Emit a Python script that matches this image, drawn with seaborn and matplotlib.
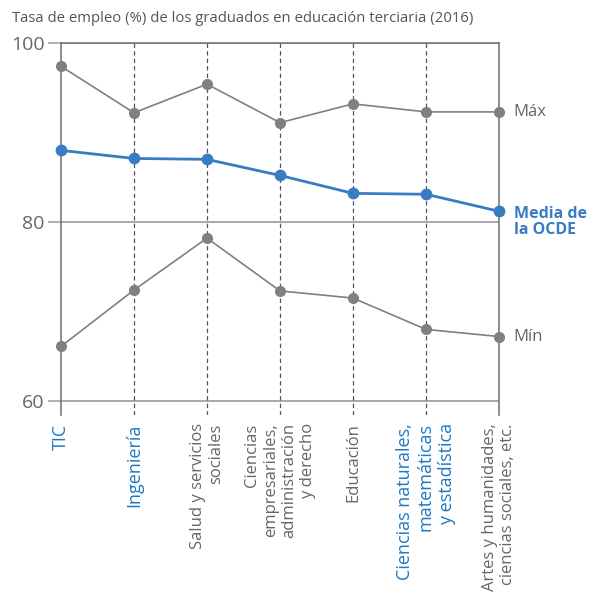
import numpy as np
import pandas as pd
import matplotlib
matplotlib.use("Agg")
import matplotlib.pyplot as plt
import seaborn as sns

categories = ["TIC", "Ingeniería", "Salud y servicios\nsociales",
              "Ciencias\nempresariales,\nadministración\ny derecho",
              "Educación", "Ciencias naturales,\nmatemáticas\ny estadística",
              "Artes y humanidades,\nciencias sociales, etc."]
highlight = [True, True, False, False, False, True, False]
max_vals = [97.4, 92.2, 95.4, 91.1, 93.2, 92.3, 92.3]
mean_vals = [88.0, 87.1, 87.0, 85.2, 83.2, 83.1, 81.2]
min_vals = [66.1, 72.4, 78.2, 72.3, 71.5, 68.0, 67.2]
y_ticks = [60, 80, 100]
title = "Tasa de empleo (%) de los graduados en educación terciaria (2016)"

sns.set_theme(style="white")
plt.rcParams['font.family'] = ['Open Sans', 'DejaVu Sans']

GRAY = "#808080"
BLUE = "#3a7cc3"
LBLUE = "#1f78c1"
TXT = "#666666"

x = np.arange(len(categories))
df = pd.DataFrame({"x": np.tile(x, 3),
                   "val": max_vals + mean_vals + min_vals,
                   "serie": ["Máx"] * 7 + ["Media"] * 7 + ["Mín"] * 7})

fig = plt.figure(figsize=(5.98, 5.94), dpi=100)
ax = fig.add_axes([61 / 598, 1 - 415 / 594, (499 - 61) / 598, (415 - 43) / 594])

ybot = 60 - 14 / 8.95
ax.set_ylim(ybot, 100)
ax.set_xlim(0, 6)

for yv in y_ticks:
    ax.axhline(yv, color="#9a9a9a", lw=1.2, zorder=1)
for xi in x[1:-1]:
    ax.axvline(xi, color="#555555", lw=0.9, ls=(0, (3.5, 2.5)), zorder=1)

for serie, col, lw, ms in [("Máx", GRAY, 1.2, 8), ("Mín", GRAY, 1.2, 8), ("Media", BLUE, 2.0, 8.5)]:
    sub = df[df.serie == serie]
    sns.lineplot(data=sub, x="x", y="val", ax=ax, color=col, lw=lw, marker="o",
                 markersize=ms, markeredgewidth=0, zorder=3, clip_on=False)

ax.set_xlabel("")
ax.set_ylabel("")
for s in ["left", "right", "top"]:
    ax.spines[s].set_color("#6d6d6d")
    ax.spines[s].set_linewidth(1.1)
ax.spines["bottom"].set_visible(False)

ax.set_yticks(y_ticks)
ax.set_yticklabels([str(v) for v in y_ticks], fontsize=14, color=TXT)
ax.tick_params(axis="y", direction="out", length=9.5, width=1.1, color="#9a9a9a",
               pad=2.5, left=True)
ax.set_xticks(x)
ax.set_xticklabels(categories, rotation=90, fontsize=12, ha="center", va="top",
                   multialignment="right")
ax.tick_params(axis="x", length=0, pad=6)
for lab, h in zip(ax.get_xticklabels(), highlight):
    lab.set_color(LBLUE if h else TXT)
    if h:
        lab.set_fontsize(13)

ax.text(6.2, max_vals[-1], "Máx", fontsize=12, color=TXT, va="center", ha="left")
ax.text(6.2, mean_vals[-1] + 0.6, "Media de\nla OCDE", fontsize=11.5, color=BLUE,
        fontweight="bold", va="top", ha="left", linespacing=1.05)
ax.text(6.2, min_vals[-1], "Mín", fontsize=12, color=TXT, va="center", ha="left")

fig.text(12 / 598, 1 - 18 / 594, title, fontsize=10.7, color="#555555", va="center", ha="left")

fig.savefig("out.png", dpi=100)
